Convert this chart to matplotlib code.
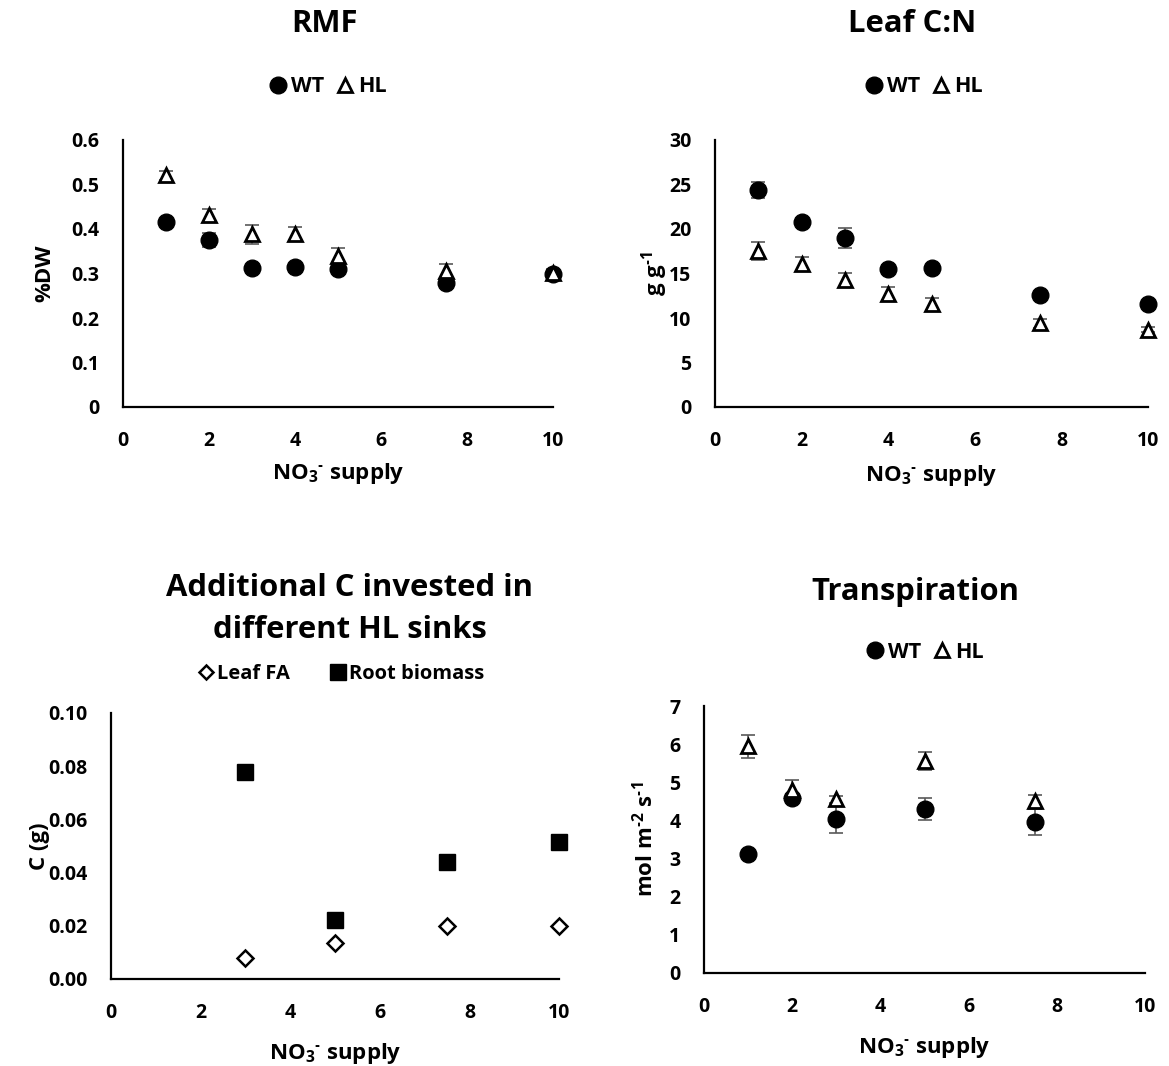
import matplotlib
matplotlib.use("Agg")
import matplotlib.pyplot as plt
from matplotlib.lines import Line2D

FONT = 'Open Sans'
plt.rcParams['font.family'] = [FONT, 'DejaVu Sans']
plt.rcParams['font.weight'] = 'bold'
plt.rcParams['mathtext.fontset'] = 'custom'
plt.rcParams['mathtext.rm'] = FONT + ':bold'
plt.rcParams['mathtext.it'] = FONT + ':bold'
plt.rcParams['mathtext.bf'] = FONT + ':bold'
plt.rcParams['mathtext.default'] = 'rm'

# ---------------- data ----------------
no3_full = [1, 2, 3, 4, 5, 7.5, 10]

rmf_wt = [0.415, 0.375, 0.312, 0.314, 0.310, 0.279, 0.298]
rmf_wt_err = [0.005, 0.015, 0.008, 0.005, 0.005, 0.006, 0.005]
rmf_hl = [0.521, 0.431, 0.388, 0.388, 0.339, 0.306, 0.300]
rmf_hl_err = [0.010, 0.015, 0.021, 0.016, 0.018, 0.015, 0.010]

cn_wt = [24.4, 20.8, 19.0, 15.5, 15.6, 12.6, 11.55]
cn_wt_err = [0.9, 0.4, 1.1, 0.4, 0.3, 0.3, 0.3]
cn_hl = [17.55, 16.05, 14.3, 12.75, 11.6, 9.4, 8.7]
cn_hl_err = [1.0, 0.8, 0.8, 0.75, 0.7, 0.5, 0.3]

no3_sinks = [3, 5, 7.5, 10]
leaf_fa = [0.0079, 0.0135, 0.0198, 0.0200]
root_biomass = [0.0777, 0.0223, 0.0438, 0.0514]

no3_tr = [1, 2, 3, 5, 7.5]
tr_wt = [3.12, 4.60, 4.05, 4.30, 3.97]
tr_wt_err = [0.05, 0.10, 0.38, 0.28, 0.34]
tr_hl = [5.94, 4.81, 4.55, 5.56, 4.51]
tr_hl_err = [0.30, 0.25, 0.10, 0.24, 0.15]

x_ticks = [0, 2, 4, 6, 8, 10]

W, H = 1169, 1066
fig = plt.figure(figsize=(W / 100, H / 100), dpi=100)

def px_axes(l, r, b, t):
    return fig.add_axes([l / W, 1 - b / H, (r - l) / W, (b - t) / H])

TICK = 14
LAB = 16
TITLE = 22.3
LEG = 15.5
ERRC = '#595959'

def style(ax, xmax, ymax, bpx, tpx, lpx, rpx, ylab_x, xlab_y):
    for s in ['top', 'right']:
        ax.spines[s].set_visible(False)
    for s in ['left', 'bottom']:
        ax.spines[s].set_linewidth(1.6)
        ax.spines[s].set_color('black')
    ax.tick_params(length=0, labelsize=TICK, pad=17)
    ax.set_xlim(0, xmax)
    ax.set_ylim(0, ymax)
    for lab in ax.get_xticklabels() + ax.get_yticklabels():
        lab.set_fontweight('bold')
    hpx = bpx - tpx
    wpx = rpx - lpx
    ax.yaxis.set_label_coords((ylab_x - lpx) / wpx, 0.5)
    ax.yaxis.label.set_va('center')
    ax.xaxis.set_label_coords(0.5, -(xlab_y - bpx) / hpx)
    ax.xaxis.label.set_va('center')

def wt_hl(ax, x, wt, wte, hl, hle):
    ax.errorbar(x, wt, yerr=wte, fmt='none', ecolor=ERRC, elinewidth=1.2,
                capsize=5, capthick=1.2, zorder=2, clip_on=False)
    ax.plot(x, wt, 'o', color='black', markersize=12, zorder=3, linestyle='none', clip_on=False)
    ax.errorbar(x, hl, yerr=hle, fmt='none', ecolor=ERRC, elinewidth=1.2,
                capsize=5, capthick=1.2, zorder=2, clip_on=False)
    ax.plot(x, hl, '^', markerfacecolor='white', markeredgecolor='black',
            markeredgewidth=2, markersize=10, zorder=4, linestyle='none', clip_on=False)

def wt_hl_legend(cx, cy):
    handles = [Line2D([], [], marker='o', color='black', linestyle='none', markersize=12),
               Line2D([], [], marker='^', markerfacecolor='white', markeredgecolor='black',
                      markeredgewidth=2, linestyle='none', markersize=10)]
    fig.legend(handles, ['WT', 'HL'], loc='center', bbox_to_anchor=(cx / W, 1 - cy / H),
               ncol=2, frameon=False, handletextpad=0.1, columnspacing=0.5,
               handlelength=1.0, borderpad=0, prop={'weight': 'bold', 'size': LEG})

HY = '\u2010'
xlab = 'NO$_3{}^{' + HY + '}$ supply'

# Panel 1: RMF
ax1 = px_axes(123, 553, 407, 140)
wt_hl(ax1, no3_full, rmf_wt, rmf_wt_err, rmf_hl, rmf_hl_err)
ax1.set_xticks(x_ticks)
ax1.set_yticks([0, 0.1, 0.2, 0.3, 0.4, 0.5, 0.6])
ax1.set_yticklabels(['0', '0.1', '0.2', '0.3', '0.4', '0.5', '0.6'])
ax1.set_xlabel(xlab, fontsize=LAB, fontweight='bold')
ax1.set_ylabel('%DW', fontsize=LAB, fontweight='bold')
style(ax1, 10, 0.6, 407, 140, 123, 553, 45, 473)
fig.text(325 / W, 1 - 24 / H, 'RMF', ha='center', va='center', fontsize=TITLE, fontweight='bold')
wt_hl_legend(327, 87)

# Panel 2: Leaf C:N
ax2 = px_axes(715, 1148, 407, 140)
wt_hl(ax2, no3_full, cn_wt, cn_wt_err, cn_hl, cn_hl_err)
ax2.set_xticks(x_ticks)
ax2.set_yticks([0, 5, 10, 15, 20, 25, 30])
ax2.set_xlabel(xlab, fontsize=LAB, fontweight='bold')
ax2.set_ylabel('g g$^{' + HY + '1}$', fontsize=LAB, fontweight='bold')
style(ax2, 10, 30, 407, 140, 715, 1148, 655, 475)
fig.text(912 / W, 1 - 24 / H, 'Leaf C:N', ha='center', va='center', fontsize=TITLE, fontweight='bold')
wt_hl_legend(923, 87)

# Panel 3: Additional C
ax3 = px_axes(111, 559, 979, 713)
ax3.plot(no3_sinks, leaf_fa, 'D', markerfacecolor='white', markeredgecolor='black',
         markeredgewidth=1.8, markersize=8, linestyle='none', zorder=3, clip_on=False)
ax3.plot(no3_sinks, root_biomass, 's', color='black', markersize=11, linestyle='none',
         zorder=3, clip_on=False)
ax3.set_xticks(x_ticks)
ax3.set_yticks([0, 0.02, 0.04, 0.06, 0.08, 0.10])
ax3.set_yticklabels(['0.00', '0.02', '0.04', '0.06', '0.08', '0.10'])
ax3.set_xlabel(xlab, fontsize=LAB, fontweight='bold')
ax3.set_ylabel('C (g)', fontsize=LAB, fontweight='bold')
style(ax3, 10, 0.10, 979, 713, 111, 559, 40, 1053)
fig.text(350 / W, 1 - 588 / H, 'Additional C invested in', ha='center', va='center',
         fontsize=TITLE, fontweight='bold')
fig.text(350 / W, 1 - 630 / H, 'different HL sinks', ha='center', va='center',
         fontsize=TITLE, fontweight='bold')
h3 = [Line2D([], [], marker='D', markerfacecolor='white', markeredgecolor='black',
             markeredgewidth=1.8, linestyle='none', markersize=7),
      Line2D([], [], marker='s', color='black', linestyle='none', markersize=11)]
fig.legend(h3, ['Leaf FA', 'Root biomass'], loc='center', bbox_to_anchor=(340 / W, 1 - 674 / H),
           ncol=2, frameon=False, handletextpad=0.05, columnspacing=1.9, borderpad=0,
           handlelength=1.0, prop={'weight': 'bold', 'size': 14.5})

# Panel 4: Transpiration
ax4 = px_axes(704, 1145, 973, 706)
wt_hl(ax4, no3_tr, tr_wt, tr_wt_err, tr_hl, tr_hl_err)
ax4.set_xticks(x_ticks)
ax4.set_yticks([0, 1, 2, 3, 4, 5, 6, 7])
ax4.set_xlabel(xlab, fontsize=LAB, fontweight='bold')
ax4.set_ylabel('mol m$^{' + HY + '2}$ s$^{' + HY + '1}$', fontsize=LAB, fontweight='bold')
style(ax4, 10, 7, 973, 706, 704, 1145, 645, 1047)
fig.text(915 / W, 1 - 592 / H, 'Transpiration', ha='center', va='center', fontsize=TITLE, fontweight='bold')
wt_hl_legend(924, 652)

fig.savefig('out.png', dpi=100)
